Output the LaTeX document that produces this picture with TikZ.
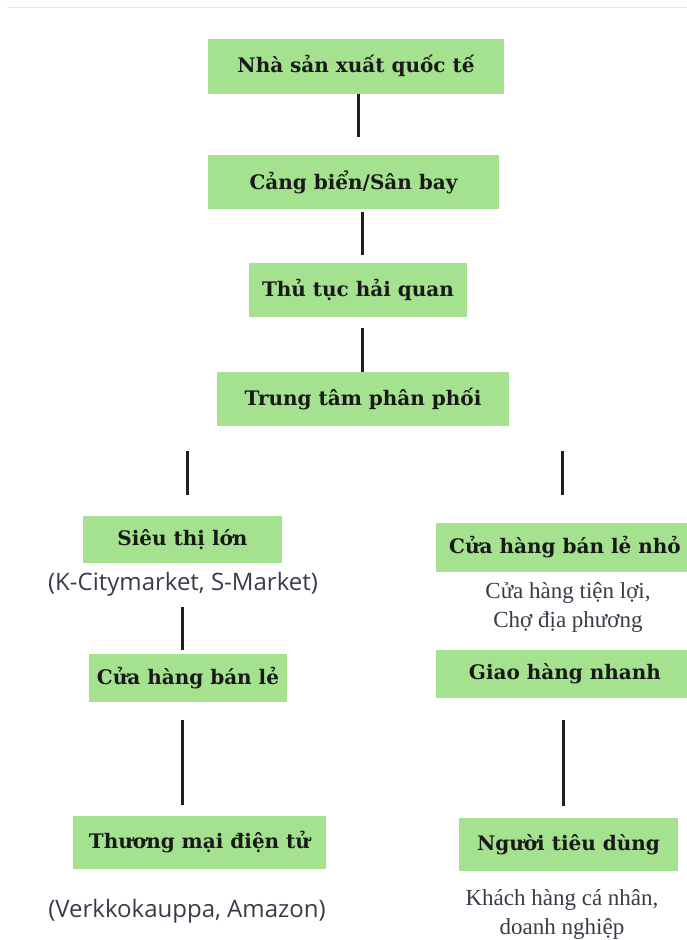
\documentclass[tikz,border=0pt]{standalone}
\usepackage{fontspec}
\setmainfont{DejaVu Serif}
\newfontfamily\boxfont{DejaVu Serif}
\newfontfamily\subsans{Open Sans}
\newfontfamily\subserif{Liberation Serif}
\definecolor{boxgreen}{RGB}{165,226,143}
\definecolor{subgray}{RGB}{60,58,72}
\definecolor{topline}{RGB}{232,232,232}
\tikzset{
  gbox/.style={fill=boxgreen, draw=none, inner sep=0pt, align=center,
    font=\boxfont\bfseries\fontsize{20}{24}\selectfont, text=black!90},
  subsans/.style={font=\subsans\fontsize{24}{28}\selectfont, text=subgray, inner sep=0pt, align=center},
  subserif/.style={font=\subserif\fontsize{23}{29}\selectfont, text=subgray, inner sep=0pt, align=center},
  conn/.style={line width=3pt, draw=black!88}
}
\begin{document}
\begin{tikzpicture}[x=1pt,y=-1pt]
\useasboundingbox (0,0) rectangle (687,940);
\draw[topline, line width=1.5pt] (7,7.5) -- (687,7.5);

\node[gbox, minimum width=296pt, minimum height=55pt] (b1) at (356,66) {Nhà sản xuất quốc tế};
\node[gbox, minimum width=291pt, minimum height=54pt] (b2) at (353.5,182) {Cảng biển/Sân bay};
\node[gbox, minimum width=218pt, minimum height=54pt] (b3) at (358,290) {Thủ tục hải quan};
\node[gbox, minimum width=292pt, minimum height=54pt] (b4) at (363,399) {Trung tâm phân phối};

\node[gbox, minimum width=199pt, minimum height=47pt] (b5) at (182.5,539.5) {Siêu thị lớn};
\node[subsans] (s5) at (183,584) {(K-Citymarket, S-Market)};
\node[gbox, minimum width=198pt, minimum height=48pt] (b6) at (188,678) {Cửa hàng bán lẻ};
\node[gbox, minimum width=253pt, minimum height=53pt] (b7) at (199.5,842.5) {Thương mại điện tử};
\node[subsans] (s7) at (187,911) {(Verkkokauppa, Amazon)};

\node[gbox, minimum width=258pt, minimum height=49pt] (b8) at (565,547.5) {Cửa hàng bán lẻ nhỏ};
\node[subserif] (s8) at (568,607.5) {Cửa hàng tiện lợi,\\Chợ địa phương};
\node[gbox, minimum width=258pt, minimum height=48pt] (b9) at (565,674) {Giao hàng nhanh};
\node[gbox, minimum width=219pt, minimum height=53pt] (b10) at (568.5,844.5) {Người tiêu dùng};
\node[subserif] (s10) at (562,914.5) {Khách hàng cá nhân,\\doanh nghiệp};

\draw[conn, shorten <=0pt, shorten >=18pt] (b1.south -| 358,0) -- (b2.north -| 358,0);
\draw[conn, shorten <=3pt, shorten >=8pt] (b2.south -| 362,0) -- (b3.north -| 362,0);
\draw[conn, shorten <=11pt, shorten >=0pt] (b3.south -| 362,0) -- (b4.north -| 362,0);
\draw[conn, shorten <=25pt, shorten >=21pt] (b4.south -| 187,0) -- (b5.north -| 187,0);
\draw[conn, shorten <=25pt, shorten >=28pt] (b4.south -| 562,0) -- (b8.north -| 562,0);
\draw[conn, shorten <=44pt, shorten >=4pt] (b5.south -| 182,0) -- (b6.north -| 182,0);
\draw[conn, shorten <=18pt, shorten >=11pt] (b6.south -| 182,0) -- (b7.north -| 182,0);
\draw[conn, shorten <=22pt, shorten >=12pt] (b9.south -| 563,0) -- (b10.north -| 563,0);
\end{tikzpicture}
\end{document}
